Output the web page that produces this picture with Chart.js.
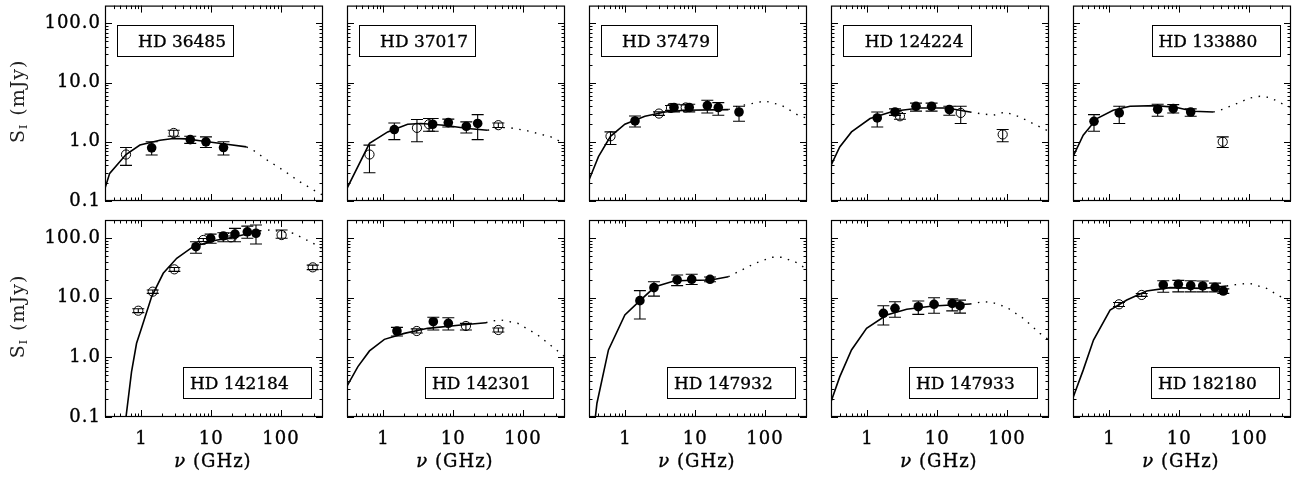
<!DOCTYPE html>
<html><head><meta charset="utf-8">
<script src="https://cdn.jsdelivr.net/npm/chart.js@4.4.1/dist/chart.umd.min.js"></script>
<style>
html,body{margin:0;padding:0;background:#fff;width:1295px;height:480px;overflow:hidden;position:relative}
canvas{position:absolute}
</style></head><body>
<script>
// ---------------- data ----------------
const starNames = ["HD 36485","HD 37017","HD 37479","HD 124224","HD 133880","HD 142184","HD 142301","HD 147932","HD 147933","HD 182180"];

const xTickVals = [1, 10, 100];
const xTickText = ["1", "10", "100"];
const yTickVals = [0.1, 1, 10, 100];
const yTickText = ["0.1", "1.0", "10.0", "100.0"];
const xMinorTicks = [0.4,0.5,0.6,0.7,0.8,0.9,2,3,4,5,6,7,8,9,20,30,40,50,60,70,80,90,200,300];
const yMinorTicks = [0.2,0.3,0.4,0.5,0.6,0.7,0.8,0.9,2,3,4,5,6,7,8,9,20,30,40,50,60,70,80,90];

// HD 36485
const s1FilledNu = [1.4, 5.0, 8.4, 15];
const s1FilledS  = [0.79, 1.09, 1.0, 0.80];
const s1FilledLo = [0.60, 0.94, 0.80, 0.60];
const s1FilledHi = [1.0, 1.24, 1.21, 1.0];
const s1OpenNu = [0.6, 2.9];
const s1OpenS  = [0.61, 1.41];
const s1OpenLo = [0.40, 1.24];
const s1OpenHi = [0.80, 1.57];
const s1FitNu = [0.3, 0.35, 0.6, 0.95, 1.84, 2.86, 4.4, 6.9, 16.7, 32];
const s1FitS  = [0.164, 0.293, 0.61, 0.88, 1.06, 1.14, 1.12, 1.04, 0.91, 0.82];
const s1ExtNu = [32, 40, 62, 108, 187, 343, 400];
const s1ExtS  = [0.82, 0.72, 0.50, 0.33, 0.21, 0.138, 0.125];

// HD 37017
const s2FilledNu = [1.43, 5.07, 8.5, 15.4, 22.4];
const s2FilledS  = [1.61, 1.98, 2.11, 1.83, 2.04];
const s2FilledLo = [1.09, 1.51, 1.78, 1.41, 1.09];
const s2FilledHi = [2.08, 2.47, 2.42, 2.17, 2.88];
const s2OpenNu = [0.63, 3.02, 4.5, 44.3];
const s2OpenS  = [0.61, 1.72, 1.98, 1.91];
const s2OpenLo = [0.30, 1.0, 1.51, 1.74];
const s2OpenHi = [0.88, 2.38, 2.47, 2.08];
const s2FitNu = [0.3, 0.63, 1.15, 2.22, 3.45, 7.4, 16.1, 31.2];
const s2FitS  = [0.164, 0.94, 1.47, 1.98, 2.04, 1.91, 1.68, 1.57];
const s2ExtNu = [31.2, 45, 67, 117, 252, 351, 400];
const s2ExtS  = [1.57, 1.75, 1.72, 1.53, 1.21, 1.0, 0.93];

// HD 37479
const s3FilledNu = [1.37, 4.96, 8.2, 14.9, 21.4, 42.4];
const s3FilledS  = [2.25, 3.8, 3.8, 4.09, 3.79, 3.19];
const s3FilledLo = [1.78, 3.2, 3.2, 3.07, 2.81, 2.22];
const s3FilledHi = [2.73, 4.3, 4.3, 5.03, 4.59, 3.98];
const s3OpenNu = [0.61, 3.02, 4.49, 7.3];
const s3OpenS  = [1.24, 3.0, 3.73, 3.8];
const s3OpenLo = [0.90, 2.8, 3.4, 3.4];
const s3OpenHi = [1.47, 3.2, 4.1, 4.2];
const s3FitNu = [0.3, 0.41, 0.61, 0.98, 1.9, 3.7, 7.1, 29.8];
const s3FitS  = [0.226, 0.56, 1.24, 1.98, 2.70, 3.19, 3.41, 3.5];
const s3ExtNu = [29.8, 41, 64, 100, 173, 300, 400];
const s3ExtS  = [3.5, 3.98, 4.42, 4.89, 4.14, 2.81, 2.5];

// HD 124224
const s4FilledNu = [1.38, 2.48, 4.96, 8.3, 14.9];
const s4FilledS  = [2.53, 3.19, 3.98, 3.98, 3.50];
const s4FilledLo = [1.78, 2.8, 3.3, 3.3, 2.81];
const s4FilledHi = [3.19, 3.6, 4.5, 4.5, 3.98];
const s4OpenNu = [2.92, 21.7, 86.7];
const s4OpenS  = [2.70, 3.07, 1.33];
const s4OpenLo = [2.4, 2.04, 1.0];
const s4OpenHi = [3.0, 3.98, 1.61];
const s4FitNu = [0.3, 0.40, 0.59, 1.09, 2.34, 5.66, 13.7, 29.5];
const s4FitS  = [0.40, 0.82, 1.47, 2.47, 3.28, 3.73, 3.73, 3.19];
const s4ExtNu = [29.5, 41, 63.6, 93.6, 153, 297, 400];
const s4ExtS  = [3.19, 3.0, 2.81, 3.19, 2.63, 1.78, 1.5];

// HD 133880
const s5FilledNu = [0.60, 1.38, 4.91, 8.2, 14.6];
const s5FilledS  = [2.22, 3.07, 3.55, 3.64, 3.19];
const s5FilledLo = [1.51, 2.04, 2.70, 3.07, 2.7];
const s5FilledHi = [2.88, 3.98, 4.31, 4.25, 3.6];
const s5OpenNu = [42];
const s5OpenS  = [1.0];
const s5OpenLo = [0.80];
const s5OpenHi = [1.21];
const s5FitNu = [0.3, 0.42, 0.66, 1.13, 1.97, 4.75, 9.2, 15.9, 30.8];
const s5FitS  = [0.56, 1.29, 2.47, 3.41, 3.98, 4.09, 3.79, 3.28, 3.19];
const s5ExtNu = [30.8, 40.6, 66.6, 103, 144, 200, 310, 400];
const s5ExtS  = [3.19, 3.5, 4.42, 5.5, 5.87, 5.6, 4.3, 3.8];

// HD 142184
const s6FilledNu = [6.04, 9.8, 14.9, 21.9, 32.9, 43.8];
const s6FilledS  = [71.4, 98.7, 108, 116, 127, 120];
const s6FilledLo = [55.3, 81.4, 86.5, 86.5, 98.7, 79];
const s6FilledHi = [86.5, 116, 122, 145, 158, 165];
const s6OpenNu = [0.90, 1.45, 2.96, 7.7, 19.2, 102, 285];
const s6OpenS  = [6.04, 12.6, 29.8, 92.5, 102.6, 112, 32.2];
const s6OpenLo = [5.6, 11.8, 27.5, 87, 97, 99, 29.5];
const s6OpenHi = [6.5, 13.4, 32, 98, 108, 136, 35];
const s6FitNu = [0.55, 0.60, 0.72, 0.85, 1.0, 1.40, 2.05, 3.2, 5.5, 10.7, 20.7, 50];
const s6FitS  = [0.045, 0.1, 0.57, 1.72, 3.06, 10.4, 25.6, 45.6, 71.4, 90, 102.6, 132];
const s6ExtNu = [50, 69.5, 150, 290, 400];
const s6ExtS  = [132, 136, 120, 81, 65];

// HD 142301
const s7FilledNu = [1.56, 5.18, 8.5];
const s7FilledS  = [2.76, 3.95, 3.72];
const s7FilledLo = [2.28, 2.87, 2.87];
const s7FilledHi = [3.18, 4.69, 4.6];
const s7OpenNu = [3.0, 15.2, 44.3];
const s7OpenS  = [2.76, 3.35, 2.87];
const s7OpenLo = [2.55, 2.87, 2.65];
const s7OpenHi = [3.0, 3.7, 3.1];
const s7FitNu = [0.3, 0.43, 0.63, 1.03, 1.99, 4.3, 12.9, 29.5];
const s7FitS  = [0.33, 0.70, 1.28, 2.0, 2.52, 3.06, 3.48, 3.8];
const s7ExtNu = [29.5, 34.8, 48.4, 84, 162, 281, 400];
const s7ExtS  = [3.8, 4.06, 4.22, 3.72, 2.37, 1.42, 1.02];

// HD 147932
const s8FilledNu = [1.61, 2.56, 5.5, 8.9, 16.3];
const s8FilledS  = [8.9, 14.7, 19.8, 20.3, 20.3];
const s8FilledLo = [4.39, 10.6, 15.9, 16.6, 18.5];
const s8FilledHi = [13.1, 18.5, 23.9, 24.6, 22.2];
const s8OpenNu = [];
const s8OpenS  = [];
const s8OpenLo = [];
const s8OpenHi = [];
const s8FitNu = [0.35, 0.37, 0.39, 0.57, 0.98, 1.61, 2.65, 5.1, 16.7, 29.8];
const s8FitS  = [0.06, 0.1, 0.17, 1.33, 5.12, 8.9, 15.2, 19.2, 19.8, 22.4];
const s8ExtNu = [29.8, 46.3, 72, 125, 173, 269, 400];
const s8ExtS  = [22.4, 29, 37.6, 47.4, 47.4, 40, 29.9];

// HD 147933
const s9FilledNu = [1.69, 2.48, 5.35, 9.0, 16.4, 21.2];
const s9FilledS  = [5.47, 6.63, 7.05, 7.73, 8.0, 7.33];
const s9FilledLo = [3.48, 4.69, 5.24, 5.47, 6.0, 5.5];
const s9FilledHi = [7.33, 8.55, 8.76, 9.97, 9.6, 9.1];
const s9OpenNu = [];
const s9OpenS  = [];
const s9OpenLo = [];
const s9OpenHi = [];
const s9FitNu = [0.3, 0.40, 0.59, 0.97, 1.88, 3.65, 8.7, 29.5];
const s9FitS  = [0.18, 0.47, 1.33, 3.06, 5.12, 6.38, 7.24, 7.82];
const s9ExtNu = [29.5, 41, 57, 99, 171, 297, 400];
const s9ExtS  = [7.82, 8.36, 8.55, 6.89, 4.5, 2.52, 1.95];

// HD 182180
const s10FilledNu = [5.9, 9.7, 14.6, 21.7, 32.6, 42.8];
const s10FilledS  = [16.3, 16.7, 15.9, 15.7, 14.9, 12.9];
const s10FilledLo = [12.3, 12.5, 12.5, 12.5, 12.5, 11.8];
const s10FilledHi = [19.2, 19.5, 19.2, 19.0, 17.5, 14.0];
const s10OpenNu = [1.37, 2.9];
const s10OpenS  = [7.73, 11.1];
const s10OpenLo = [7.1, 10.5];
const s10OpenHi = [8.3, 11.7];
const s10FitNu = [0.3, 0.42, 0.59, 1.02, 1.77, 3.4, 7.4, 22, 47.9];
const s10FitS  = [0.21, 0.61, 1.95, 6.2, 9.13, 12.9, 14.7, 14.3, 15.7];
const s10ExtNu = [47.9, 74.3, 103, 179, 310, 400];
const s10ExtS  = [15.7, 16.9, 17.3, 14.3, 9.75, 8.5];

// ---------------- assemble ----------------
const panels = [
  [s1FilledNu,s1FilledS,s1FilledLo,s1FilledHi,s1OpenNu,s1OpenS,s1OpenLo,s1OpenHi,s1FitNu,s1FitS,s1ExtNu,s1ExtS],
  [s2FilledNu,s2FilledS,s2FilledLo,s2FilledHi,s2OpenNu,s2OpenS,s2OpenLo,s2OpenHi,s2FitNu,s2FitS,s2ExtNu,s2ExtS],
  [s3FilledNu,s3FilledS,s3FilledLo,s3FilledHi,s3OpenNu,s3OpenS,s3OpenLo,s3OpenHi,s3FitNu,s3FitS,s3ExtNu,s3ExtS],
  [s4FilledNu,s4FilledS,s4FilledLo,s4FilledHi,s4OpenNu,s4OpenS,s4OpenLo,s4OpenHi,s4FitNu,s4FitS,s4ExtNu,s4ExtS],
  [s5FilledNu,s5FilledS,s5FilledLo,s5FilledHi,s5OpenNu,s5OpenS,s5OpenLo,s5OpenHi,s5FitNu,s5FitS,s5ExtNu,s5ExtS],
  [s6FilledNu,s6FilledS,s6FilledLo,s6FilledHi,s6OpenNu,s6OpenS,s6OpenLo,s6OpenHi,s6FitNu,s6FitS,s6ExtNu,s6ExtS],
  [s7FilledNu,s7FilledS,s7FilledLo,s7FilledHi,s7OpenNu,s7OpenS,s7OpenLo,s7OpenHi,s7FitNu,s7FitS,s7ExtNu,s7ExtS],
  [s8FilledNu,s8FilledS,s8FilledLo,s8FilledHi,s8OpenNu,s8OpenS,s8OpenLo,s8OpenHi,s8FitNu,s8FitS,s8ExtNu,s8ExtS],
  [s9FilledNu,s9FilledS,s9FilledLo,s9FilledHi,s9OpenNu,s9OpenS,s9OpenLo,s9OpenHi,s9FitNu,s9FitS,s9ExtNu,s9ExtS],
  [s10FilledNu,s10FilledS,s10FilledLo,s10FilledHi,s10OpenNu,s10OpenS,s10OpenLo,s10OpenHi,s10FitNu,s10FitS,s10ExtNu,s10ExtS]
];

const FONT = '"DejaVu Serif", "Liberation Serif", serif';
Chart.defaults.font.family = FONT;
Chart.defaults.font.size = 18;
Chart.defaults.color = '#000';

const pts = (xs, ys) => xs.map((x, i) => ({x: x, y: ys[i]}));

function drawText(ctx, txt, x, y) {
  ctx.fillText(txt, x, y);
  ctx.strokeText(txt, x, y);
}

const decoPlugin = {
  id: 'deco',
  beforeDraw(chart) {
    chart.ctx.letterSpacing = '1px';
  },
  beforeDatasetsDraw(chart, args, opts) {
    const ctx = chart.ctx, xs = chart.scales.x, ys = chart.scales.y;
    const a = chart.chartArea;
    ctx.save();
    ctx.beginPath(); ctx.rect(a.left, a.top, a.right - a.left, a.bottom - a.top); ctx.clip();
    ctx.strokeStyle = '#000'; ctx.lineWidth = 1.1;
    opts.bars.forEach(b => {
      b.nu.forEach((nu, i) => {
        const px = xs.getPixelForValue(nu);
        const p1 = ys.getPixelForValue(b.lo[i]), p2 = ys.getPixelForValue(b.hi[i]);
        const hw = 6;
        ctx.beginPath();
        ctx.moveTo(px, p1); ctx.lineTo(px, p2);
        ctx.moveTo(px - hw, p1); ctx.lineTo(px + hw, p1);
        ctx.moveTo(px - hw, p2); ctx.lineTo(px + hw, p2);
        ctx.stroke();
      });
    });
    ctx.restore();
  },
  afterDraw(chart, args, opts) {
    const ctx = chart.ctx, xs = chart.scales.x, ys = chart.scales.y;
    const a = chart.chartArea;
    const L = a.left, R = a.right, T = a.top, B = a.bottom;
    ctx.save();
    ctx.strokeStyle = '#000'; ctx.lineWidth = 1.2;
    ctx.strokeRect(L + 0.5, T + 0.5, R - L - 1, B - T - 1);
    ctx.lineWidth = 1;
    ctx.beginPath();
    const xt = (v, len) => { const p = Math.round(xs.getPixelForValue(v)) + 0.5;
      ctx.moveTo(p, B); ctx.lineTo(p, B - len); ctx.moveTo(p, T); ctx.lineTo(p, T + len); };
    const yt = (v, len) => { const p = Math.round(ys.getPixelForValue(v)) + 0.5;
      ctx.moveTo(L, p); ctx.lineTo(L + len, p); ctx.moveTo(R, p); ctx.lineTo(R - len, p); };
    xTickVals.forEach(v => xt(v, 7)); xMinorTicks.forEach(v => xt(v, 3.5));
    yTickVals.forEach(v => yt(v, 7)); yMinorTicks.forEach(v => yt(v, 3.5));
    ctx.stroke();

    // name box
    const bw = opts.name.length > 8 ? 127.5 : 116, bh = 31;
    let bx, by;
    if (opts.row === 0) { by = T + 19.5; bx = opts.col < 4 ? L + 12 : R - 12 - bw; }
    else { by = B - 19.5 - bh; bx = R - 12.5 - bw; }
    ctx.lineWidth = 1;
    ctx.strokeRect(Math.round(bx) + 0.5, Math.round(by) + 0.5, Math.round(bw), bh);
    ctx.letterSpacing = '0px';
    ctx.font = '17px ' + FONT; ctx.fillStyle = '#000'; ctx.textBaseline = 'alphabetic';
    ctx.lineWidth = 0.35;
    if (opts.row === 0 && opts.col < 4) { ctx.textAlign = 'right'; drawText(ctx, opts.name, bx + bw - 7, by + bh / 2 + 6.5); }
    else { ctx.textAlign = 'left'; drawText(ctx, opts.name, bx + 7, by + bh / 2 + 6.5); }

    ctx.letterSpacing = '1px';
    // y title
    if (opts.col === 0) {
      ctx.save();
      ctx.translate(17, (T + B) / 2 - 2);
      ctx.rotate(-Math.PI / 2);
      ctx.textAlign = 'left';
      ctx.font = '19px ' + FONT; const wS = ctx.measureText('S').width; const wR = ctx.measureText(' (mJy)').width;
      ctx.font = '11px ' + FONT; const wI = ctx.measureText('I').width;
      const tot = wS + wI + 1 + wR; const x0 = -tot / 2;
      ctx.fillStyle = '#222';
      ctx.font = '19px ' + FONT; ctx.fillText('S', x0, 7);
      ctx.font = '11px ' + FONT; ctx.fillText('I', x0 + wS, 10);
      ctx.font = '19px ' + FONT; ctx.fillText(' (mJy)', x0 + wS + wI + 1, 7);
      ctx.restore();
    }
    // x title
    if (opts.row === 1) {
      ctx.lineWidth = 0.35; ctx.strokeStyle = '#000';
      ctx.font = 'italic 18px ' + FONT; const wN = ctx.measureText('ν').width;
      ctx.font = '18px ' + FONT; const wG = ctx.measureText(' (GHz)').width;
      const cx = (L + R) / 2 - 1; const x0 = cx - (wN + wG) / 2;
      ctx.textAlign = 'left';
      ctx.font = 'italic 18px ' + FONT; drawText(ctx, 'ν', x0, B + 49.5);
      ctx.font = '18px ' + FONT; drawText(ctx, ' (GHz)', x0 + wN, B + 49.5);
    }
    ctx.restore();
  }
};

const colLeft = [105, 347, 589, 831, 1073];
const areaW = 218;
const rowTop = [5, 220];
const rowH = [196, 197];

panels.forEach((p, i) => {
  const col = i % 5, row = Math.floor(i / 5);
  const padL = col === 0 ? 105 : 12, padR = 12;
  const padT = row === 0 ? 5 : 8, padB = row === 0 ? 8 : 63;
  const W = areaW + padL + padR, H = rowH[row] + padT + padB;
  const cv = document.createElement('canvas');
  cv.width = W; cv.height = H;
  cv.style.left = (colLeft[col] - padL) + 'px';
  cv.style.top = (rowTop[row] - padT) + 'px';
  cv.style.width = W + 'px'; cv.style.height = H + 'px';
  document.body.appendChild(cv);
  const [fNu, fS, fLo, fHi, oNu, oS, oLo, oHi, mNu, mS, eNu, eS] = p;
  new Chart(cv, {
    type: 'scatter',
    data: { datasets: [
      { data: pts(fNu, fS), pointRadius: 4.8, pointBackgroundColor: '#000', pointBorderColor: '#000', pointBorderWidth: 0, showLine: false, order: 1 },
      { data: pts(oNu, oS), pointRadius: 4.6, pointBackgroundColor: 'rgba(0,0,0,0)', pointBorderColor: '#000', pointBorderWidth: 1, showLine: false, order: 2 },
      { data: pts(mNu, mS), showLine: true, borderColor: '#000', borderWidth: 1.6, pointRadius: 0, tension: 0, clip: 0, order: 3 },
      { data: pts(eNu, eS), showLine: true, borderColor: '#000', borderWidth: 1.4, borderDash: [1.5, 6.5], pointRadius: 0, tension: 0, clip: 0, order: 4 }
    ]},
    options: {
      responsive: false, maintainAspectRatio: false, animation: false, devicePixelRatio: 1,
      events: [],
      layout: { padding: { top: padT, right: padR, left: 0, bottom: 0 } },
      plugins: { legend: { display: false }, tooltip: { enabled: false },
        deco: { name: starNames[i], row: row, col: col,
          bars: [ { nu: fNu, lo: fLo, hi: fHi }, { nu: oNu, lo: oLo, hi: oHi } ] } },
      scales: {
        x: { type: 'logarithmic', position: 'bottom', min: 0.3, max: 400,
          grid: { display: false, drawTicks: false, tickLength: 0 }, border: { display: false },
          afterBuildTicks: s => { s.ticks = xTickVals.map(v => ({ value: v })); },
          afterFit: s => { s.height = padB; s.paddingLeft = 0; s.paddingRight = 0; },
          ticks: { display: row === 1, autoSkip: false, maxRotation: 0, padding: 12,
            textStrokeColor: '#000', textStrokeWidth: 0.35,
            callback: v => { const k = xTickVals.indexOf(v); return k >= 0 ? xTickText[k] : ''; } } },
        y: { type: 'logarithmic', position: 'left', min: 0.1, max: 200,
          grid: { display: false, drawTicks: false, tickLength: 0 }, border: { display: false },
          afterBuildTicks: s => { s.ticks = yTickVals.map(v => ({ value: v })); },
          afterFit: s => { s.width = padL; s.paddingTop = 0; s.paddingBottom = 0; },
          ticks: { display: col === 0, autoSkip: false, padding: 4,
            textStrokeColor: '#000', textStrokeWidth: 0.35,
            callback: v => { const k = yTickVals.indexOf(v); return k >= 0 ? yTickText[k] : ''; } } }
      }
    },
    plugins: [decoPlugin]
  });
});
</script>
</body></html>
